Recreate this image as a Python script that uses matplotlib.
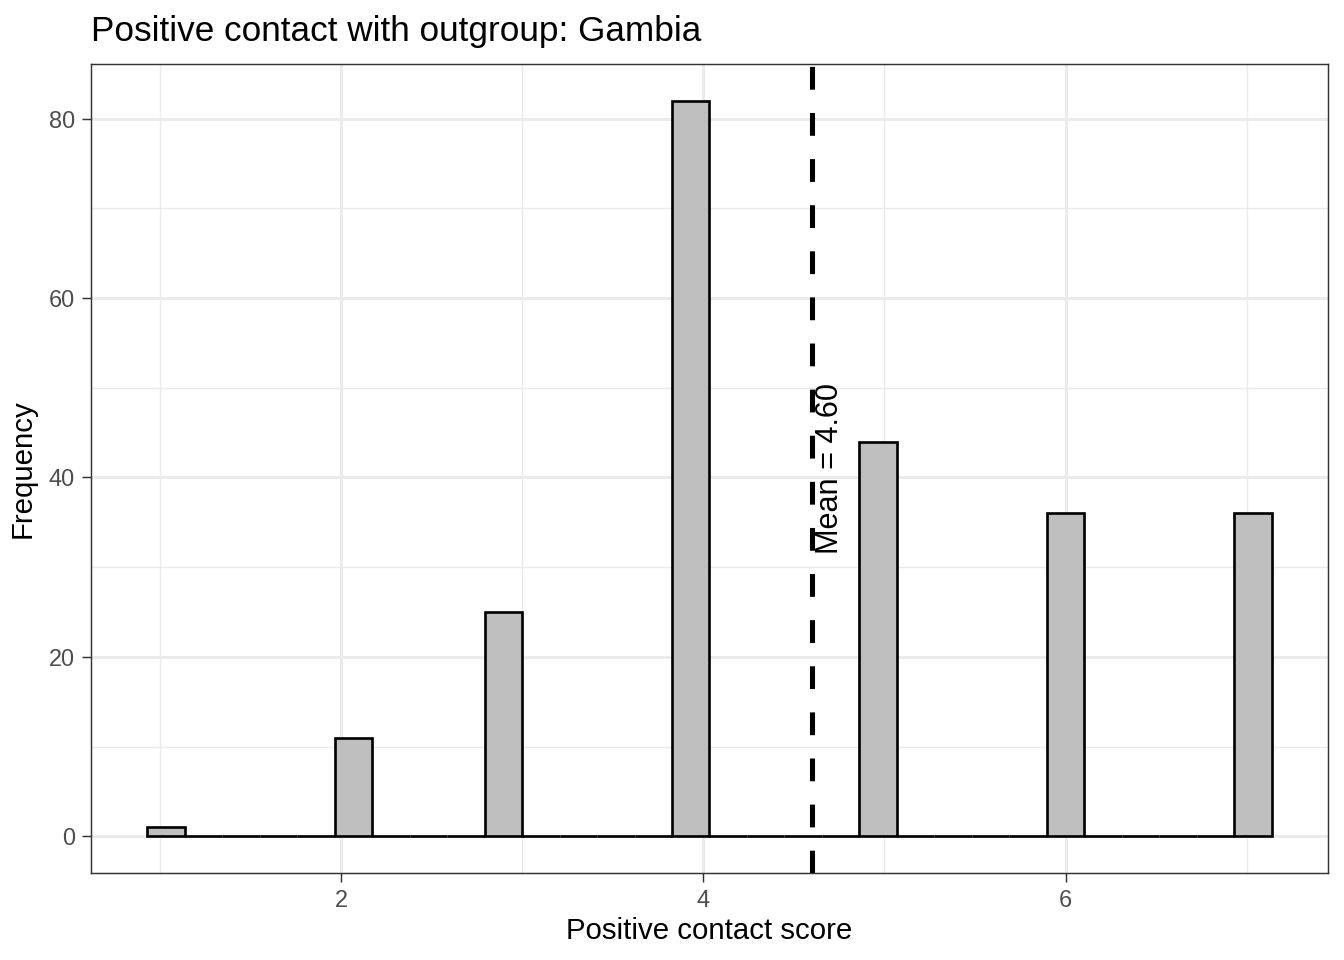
import numpy as np
import matplotlib
matplotlib.use("Agg")
import matplotlib.pyplot as plt

# score values and their counts
scores = [1, 2, 3, 4, 5, 6, 7]
counts = [1, 11, 25, 82, 44, 36, 36]
mean_score = 4.60

title = "Positive contact with outgroup: Gambia"
x_label = "Positive contact score"
y_label = "Frequency"

plt.rcParams['font.family'] = ['Liberation Sans', 'DejaVu Sans']

# ggplot-style binning: 30 bins over the data range
n_bins = 30
lo, hi = min(scores), max(scores)
width = (hi - lo) / (n_bins - 1)
boundary = width / 2
origin = boundary + np.floor((lo - boundary) / width) * width
edges = origin + width * np.arange(n_bins + 1)
bin_counts = np.zeros(n_bins)
for s, c in zip(scores, counts):
    k = int(np.searchsorted(edges, s, side='left')) - 1
    bin_counts[k] += c

fig = plt.figure(figsize=(7, 5), dpi=192)
ax = fig.add_axes([91 / 1344, 1 - 873 / 960, (1328 - 91) / 1344, (873 - 64) / 960])

ax.bar(edges[:-1], bin_counts, width=width, align='edge', color='#BEBEBE',
       edgecolor='black', linewidth=1.0, zorder=3)

ax.axvline(mean_score, color='black', linewidth=1.9, dashes=(4.5, 4.6), zorder=4)
ax.text(mean_score + 0.1, max(counts) / 2, f"Mean = {mean_score:.2f}", rotation=90,
        ha='center', va='center', fontsize=11.5, zorder=5)

span_x = edges[-1] - edges[0]
ax.set_xlim(edges[0] - 0.05 * span_x, edges[-1] + 0.05 * span_x)
ymax = max(counts)
ax.set_ylim(-0.05 * ymax, ymax * 1.05)

ax.set_xticks([2, 4, 6])
ax.set_xticks([1, 3, 5, 7], minor=True)
ax.set_yticks([0, 20, 40, 60, 80])
ax.set_yticks([10, 30, 50, 70], minor=True)
ax.grid(which='major', color='#EBEBEB', linewidth=1.1, zorder=0)
ax.grid(which='minor', color='#EBEBEB', linewidth=0.55, zorder=0)
ax.set_axisbelow(True)
ax.tick_params(which='major', length=3.5, width=0.55, color='#333333',
               labelsize=8.8, labelcolor='#4D4D4D', pad=2.5)
ax.tick_params(which='minor', length=0)
for sp in ax.spines.values():
    sp.set_color('#333333')
    sp.set_linewidth(0.55)

ax.set_xlabel(x_label, fontsize=11, labelpad=2)
ax.set_ylabel(y_label, fontsize=11, labelpad=4.5)
ax.set_title(title, fontsize=13.2, loc='left', x=0.0, pad=8.5)

fig.savefig("out.png", dpi=192)
